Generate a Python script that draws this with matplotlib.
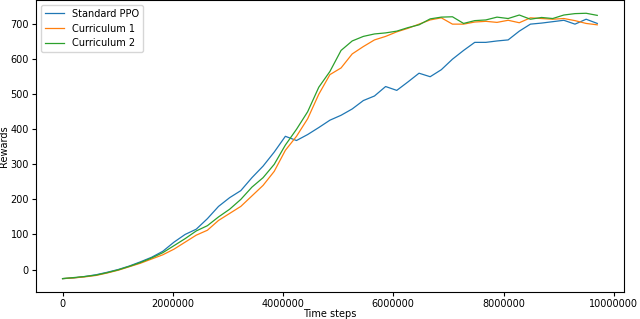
import numpy as np
import matplotlib
matplotlib.use("Agg")
import matplotlib.pyplot as plt
from matplotlib.ticker import FuncFormatter

# time steps (evenly spaced samples)
steps = np.linspace(0, 9.7e6, 49)

standard_ppo = [-26, -24, -20, -15, -8, 0, 10, 22, 35, 52,
                78, 100, 115, 145, 180, 205, 225, 262, 295, 335,
                380, 368, 385, 405, 426, 440, 458, 482, 495, 522,
                511, 535, 560, 550, 570, 600, 625, 648, 648, 652,
                655, 680, 700, 703, 707, 711, 700, 714, 702]

curriculum_1 = [-26, -24, -21, -17, -10, -2, 8, 18, 30, 42,
                58, 78, 98, 112, 140, 160, 180, 210, 240, 280,
                340, 380, 430, 500, 556, 575, 615, 636, 655, 665,
                678, 688, 700, 712, 718, 700, 700, 706, 708, 705,
                711, 704, 718, 716, 714, 716, 710, 702, 698]

curriculum_2 = [-26, -23, -20, -16, -9, -1, 9, 20, 33, 48,
                68, 88, 110, 125, 150, 172, 200, 235, 262, 300,
                355, 400, 450, 520, 565, 625, 652, 665, 672, 675,
                680, 690, 698, 715, 720, 721, 702, 710, 712, 720,
                716, 726, 714, 719, 716, 726, 730, 731, 725]

fig = plt.figure(figsize=(6.4, 3.19), dpi=100)
ax = fig.add_axes([0.056, 0.085, 0.919, 0.915])

ax.plot(steps, standard_ppo, color="#1f77b4", lw=0.9, label="Standard PPO")
ax.plot(steps, curriculum_1, color="#ff7f0e", lw=0.9, label="Curriculum 1")
ax.plot(steps, curriculum_2, color="#2ca02c", lw=0.9, label="Curriculum 2")

ax.set_xticks([0, 2000000, 4000000, 6000000, 8000000, 10000000])
ax.xaxis.set_major_formatter(FuncFormatter(lambda v, p: "%d" % v))
ax.set_yticks(range(0, 800, 100))
ax.tick_params(labelsize=7, length=3, pad=2)

ax.set_xlabel("Time steps", fontsize=7, labelpad=0)
ax.set_ylabel("Rewards", fontsize=7, labelpad=1)
ax.legend(loc="upper left", fontsize=7)

fig.savefig("out.png", dpi=100)
